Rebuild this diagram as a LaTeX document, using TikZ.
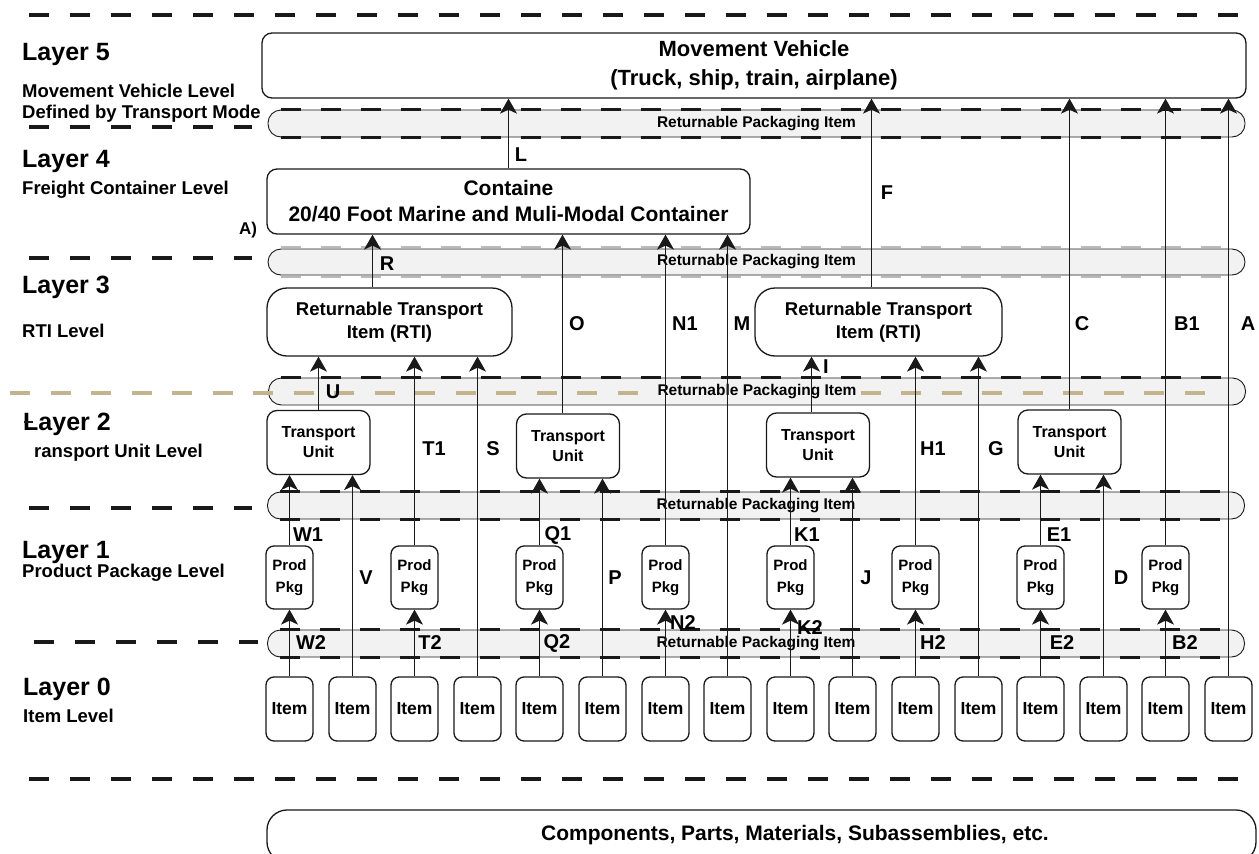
\documentclass[tikz,border=0pt]{standalone}
\usepackage{fontspec}
\setmainfont{Liberation Sans}
\usetikzlibrary{arrows.meta}
\newcommand\myfs[2]{\fontsize{#1}{#2}\selectfont}
\definecolor{ink}{RGB}{25,25,25}
\definecolor{bandfill}{RGB}{242,242,242}
\definecolor{sepline}{RGB}{196,180,140}
\definecolor{bandgray}{RGB}{185,185,185}

\begin{document}
\begin{tikzpicture}[x=1pt,y=-1pt,
  box/.style={draw=ink, line width=1.3pt, fill=white, inner sep=0pt, align=center},
  vehbox/.style={box, rounded corners=10pt, font=\bfseries\myfs{22}{29}},
  ctrbox/.style={box, rounded corners=10pt, font=\bfseries\myfs{21}{26}},
  rtibox/.style={box, rounded corners=20pt, minimum height=68pt, font=\bfseries\myfs{18.5}{23}},
  tubox/.style={box, rounded corners=10pt, minimum width=103pt, minimum height=64pt, font=\bfseries\myfs{16}{20}},
  pkgbox/.style={box, rounded corners=8pt, minimum width=47pt, minimum height=63pt, font=\bfseries\myfs{15}{22}},
  itembox/.style={box, rounded corners=8pt, minimum width=47pt, minimum height=64pt, font=\bfseries\myfs{17.5}{21}},
  band/.style={draw=ink, line width=0.9pt, fill=bandfill, rounded corners=13pt, inner sep=0pt, minimum width=977pt, minimum height=27pt},
  bandtext/.style={fill=bandfill, inner sep=1pt, font=\bfseries\myfs{15.5}{18}},
  banddash/.style={draw=ink, line width=2.2pt, dash pattern=on 20pt off 20pt},
  bandlight/.style={draw=bandgray, line width=2.2pt, dash pattern=on 20pt off 20pt},
  layersep/.style={draw=ink, line width=3.2pt, dash pattern=on 20pt off 21pt},
  tansep/.style={draw=sepline, line width=3.2pt, dash pattern=on 20pt off 20.5pt},
  arr/.style={draw=ink, line width=1.2pt, -{Stealth[length=15pt,width=17pt,inset=4pt]}},
  lbl/.style={inner sep=0pt, font=\bfseries\myfs{20}{24}},
  layertitle/.style={anchor=base west, inner sep=0pt, font=\bfseries\myfs{25}{28}},
  layerdesc/.style={anchor=base west, inner sep=0pt, font=\bfseries\myfs{18.5}{22}}
]
\useasboundingbox (0,0) rectangle (1259,854);
\clip (0,0) rectangle (1259,854);

% returnable packaging bands between the levels
\node[band] (b1) at (756.5,123.5) {};
\node[band, minimum height=26pt] (b2) at (756.5,262) {};
\node[band] (b3) at (757,391.5) {};
\node[band] (b4) at (756,505.5) {};
\node[band] (b5) at (756,643.5) {};

\foreach \b in {b1,b4,b5}{
  \draw[banddash] ([xshift=13pt]\b.north west) -- ([xshift=-13pt]\b.north east);
  \draw[banddash] ([xshift=13pt]\b.south west) -- ([xshift=-13pt]\b.south east);
}
\draw[banddash] ([xshift=13pt]b3.north west) -- ([xshift=-13pt]b3.north east);
\draw[bandlight] ([xshift=13pt,yshift=1.5pt]b2.north west) -- ([xshift=-13pt,yshift=1.5pt]b2.north east);
\draw[bandlight] ([xshift=13pt,yshift=-1.5pt]b2.south west) -- ([xshift=-13pt,yshift=-1.5pt]b2.south east);

% level separators
\coordinate (s0a) at (29,15);   \coordinate (s0b) at (1245,15);
\coordinate (s1a) at (29,127);  \coordinate (s1b) at (252,127);
\coordinate (s2a) at (29,258);  \coordinate (s2b) at (252,258);
\coordinate (s3a) at (10,393);  \coordinate (s3b) at (1212,393);
\coordinate (s4a) at (29,508);  \coordinate (s4b) at (252,508);
\coordinate (s5a) at (34,642);  \coordinate (s5b) at (258,642);
\coordinate (s6a) at (29,779);  \coordinate (s6b) at (1245,779);
\draw[layersep] (s0a) -- (s0b);
\draw[layersep] (s1a) -- (s1b);
\draw[layersep] (s2a) -- (s2b);
\draw[tansep] (s3a) -- (s3b);
\draw[layersep] (s4a) -- (s4b);
\draw[layersep] (s5a) -- (s5b);
\draw[layersep] (s6a) -- (s6b);

\foreach \b in {b1,b2,b3,b4,b5}
  \node[bandtext] (\b t) at (\b.center) {Returnable Packaging Item};

% level names
\node[layertitle] (l5) at (22,60) {Layer 5};
\node[layerdesc] (l5a) at (22,97) {Movement Vehicle Level};
\node[layerdesc] (l5b) at (22,118) {Defined by Transport Mode};
\node[layertitle] (l4) at (22,167) {Layer 4};
\node[layerdesc] (l4a) at (22,194) {Freight Container Level};
\node[layertitle] (l3) at (22,293) {Layer 3};
\node[layerdesc] (l3a) at (22,337) {RTI Level};
\node[layertitle] (l2) at (23,430) {Layer 2};
\coordinate (l2s1) at (24,422); \coordinate (l2s2) at (33,422);
\draw[ink, line width=2.4pt] (l2s1) -- (l2s2);
\node[layerdesc] (l2a) at (34,457) {ransport Unit Level};
\node[layertitle] (l1) at (22,558) {Layer 1};
\node[layerdesc] (l1a) at (22,577) {Product Package Level};
\node[layertitle] (l0) at (23,695) {Layer 0};
\node[layerdesc] (l0a) at (23,722) {Item Level};

% packaging hierarchy
\node[vehbox, minimum width=984pt, minimum height=65pt] (veh) at (754,65.5)
  {Movement Vehicle\\(Truck, ship, train, airplane)};
\node[ctrbox, minimum width=483pt, minimum height=65pt] (ctr) at (508.5,201.5)
  {Containe\\20/40 Foot Marine and Muli-Modal Container};
\node[rtibox, minimum width=245pt] (rti0) at (389.5,322) {Returnable Transport\\Item (RTI)};
\node[rtibox, minimum width=247pt] (rti1) at (878.5,322) {Returnable Transport\\Item (RTI)};
\node[tubox] (tu0) at (318.5,442.5) {Transport\\Unit};
\node[tubox] (tu1) at (568,446) {Transport\\Unit};
\node[tubox] (tu2) at (818,445) {Transport\\Unit};
\node[tubox] (tu3) at (1069.5,442) {Transport\\Unit};
\foreach \i in {0,...,7}
  \node[pkgbox] (pp\i) at ({round(289+125.2*\i)+0.5},577.5) {Prod\\Pkg};
\foreach \i in {0,...,15}
  \node[itembox] (it\i) at ({round(289+62.6*\i)+0.5},709) {Item};

\node[draw=ink, line width=1.3pt, rounded corners=20pt, minimum width=989pt, minimum height=52pt, inner sep=0pt] (comp) at (761.5,836) {};
\node[inner sep=0pt, font=\bfseries\myfs{21}{24}] (compt) at (795,835) {Components, Parts, Materials, Subassemblies, etc.};

% item to product package / transport unit / RTI / container / vehicle
\draw[arr] (it0.north) -- (it0.north |- pp0.south);
\draw[arr] (it1.north) -- (it1.north |- tu0.south);
\draw[arr] (pp0.north) -- (pp0.north |- tu0.south);
\draw[arr] (it2.north) -- (it2.north |- pp1.south);
\draw[arr] (pp1.north) -- (pp1.north |- rti0.south);
\draw[arr] (it3.north) -- (it3.north |- rti0.south);
\draw[arr] (it4.north) -- (it4.north |- pp2.south);
\draw[arr] (pp2.north) -- (pp2.north |- tu1.south);
\draw[arr] (it5.north) -- (it5.north |- tu1.south);
\draw[arr] (it6.north) -- (it6.north |- pp3.south);
\draw[arr] (pp3.north) -- (pp3.north |- ctr.south);
\draw[arr] (it7.north) -- (it7.north |- ctr.south);
\draw[arr] (it8.north) -- (it8.north |- pp4.south);
\draw[arr] (pp4.north) -- (pp4.north |- tu2.south);
\draw[arr] (it9.north) -- (it9.north |- tu2.south);
\draw[arr] (it10.north) -- (it10.north |- pp5.south);
\draw[arr] (pp5.north) -- (pp5.north |- rti1.south);
\draw[arr] (it11.north) -- (it11.north |- rti1.south);
\draw[arr] (it12.north) -- (it12.north |- pp6.south);
\draw[arr] (pp6.north) -- (pp6.north |- tu3.south);
\draw[arr] (it13.north) -- (it13.north |- tu3.south);
\draw[arr] (it14.north) -- (it14.north |- pp7.south);
\draw[arr] (pp7.north) -- (pp7.north |- veh.south);
\draw[arr] (it15.north) -- (it15.north |- veh.south);
% transport units upward
\draw[arr] (tu0.north) -- (tu0.north |- rti0.south);
\draw[arr] ([xshift=-5.5pt]tu1.north) -- ([xshift=-5.5pt]tu1.north |- ctr.south);
\draw[arr] ([xshift=-6.5pt]tu2.north) -- ([xshift=-6.5pt]tu2.north |- rti1.south);
\draw[arr] (tu3.north) -- (tu3.north |- veh.south);
% RTIs and container upward
\draw[arr] ([xshift=-17pt]rti0.north) -- ([xshift=-17pt]rti0.north |- ctr.south);
\draw[arr] ([xshift=-7pt]rti1.north) -- ([xshift=-7pt]rti1.north |- veh.south);
\draw[arr] (ctr.north) -- (ctr.north |- veh.south);

% path labels
\node[lbl] (tL) at (521,155) {L};
\node[lbl] (tF) at (887,193) {F};
\node[lbl] (tR) at (387,264) {R};
\node[lbl] (tO) at (577,324) {O};
\node[lbl] (tN1) at (685,324) {N1};
\node[lbl] (tM) at (742,324) {M};
\node[lbl] (tC) at (1082,324) {C};
\node[lbl] (tB1) at (1187,324) {B1};
\node[lbl] (tA) at (1248,324) {A};
\node[lbl] (tI) at (826,367) {I};
\node[lbl] (tU) at (333,392) {U};
\node[lbl] (tT1) at (434,449) {T1};
\node[lbl] (tS) at (493,449) {S};
\node[lbl] (tH1) at (933,449) {H1};
\node[lbl] (tG) at (996,449) {G};
\node[lbl] (tW1) at (308,535) {W1};
\node[lbl] (tQ1) at (558,535) {Q1};
\node[lbl] (tK1) at (807,535) {K1};
\node[lbl] (tE1) at (1059,535) {E1};
\node[lbl] (tV) at (366,578) {V};
\node[lbl] (tP) at (615,578) {P};
\node[lbl] (tJ) at (866,578) {J};
\node[lbl] (tD) at (1121,578) {D};
\node[lbl] (tN2) at (683,623) {N2};
\node[lbl] (tK2) at (810,628) {K2};
\node[lbl] (tW2) at (311,643) {W2};
\node[lbl] (tT2) at (430,643) {T2};
\node[lbl] (tQ2) at (557,643) {Q2};
\node[lbl] (tH2) at (933,643) {H2};
\node[lbl] (tE2) at (1062,643) {E2};
\node[lbl] (tB2) at (1185,643) {B2};
\node[inner sep=0pt, font=\bfseries\myfs{17}{20}] (tAp) at (248,230) {A)};
\end{tikzpicture}
\end{document}
